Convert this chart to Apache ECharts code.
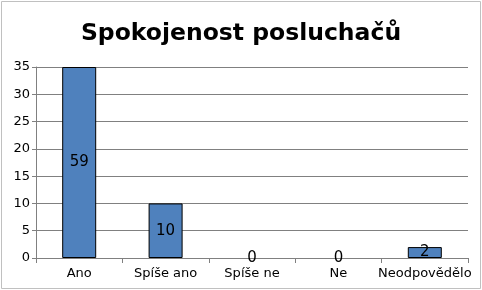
<!DOCTYPE html>
<html><head><meta charset="utf-8">
<script src="https://cdn.jsdelivr.net/npm/echarts@6/dist/echarts.min.js"></script>
<style>html,body{margin:0;padding:0;background:#fff}#c{width:482px;height:290px}</style>
</head><body><div id="c"></div>
<script>
const categories = ['Ano', 'Spíše ano', 'Spíše ne', 'Ne', 'Neodpovědělo'];
const counts = [59, 10, 0, 0, 2];
const yTicks = [0, 5, 10, 15, 20, 25, 30, 35];
const axisMax = 35;

const chart = echarts.init(document.getElementById('c'));
chart.setOption({
  animation: false,
  title: {
    text: 'Spokojenost posluchačů', left: 'center', top: 17,
    textStyle: { fontFamily: 'DejaVu Sans', fontWeight: 'bold', fontSize: 23.5, color: '#000' }
  },
  graphic: [{ type: 'rect', silent: true, shape: { x: 1.5, y: 1.5, width: 479, height: 287 },
    style: { fill: 'none', stroke: '#c0c0c0', lineWidth: 1 } }],
  grid: { left: 36, right: 14, top: 67, bottom: 32 },
  xAxis: {
    type: 'category', data: categories,
    axisLine: { lineStyle: { color: '#808080' } },
    axisTick: { show: true, length: 5, lineStyle: { color: '#808080' } },
    axisLabel: { color: '#000', fontFamily: 'DejaVu Sans', fontSize: 13, margin: 9, interval: 0 }
  },
  yAxis: {
    type: 'value', min: 0, max: axisMax, interval: 5,
    axisLine: { show: true, lineStyle: { color: '#808080' } },
    axisTick: { show: true, length: 4, lineStyle: { color: '#808080' } },
    splitLine: { lineStyle: { color: '#808080' } },
    axisLabel: { color: '#000', fontFamily: 'DejaVu Sans', fontSize: 13, margin: 6,
      formatter: v => yTicks.includes(v) ? String(v) : '' }
  },
  series: [{
    type: 'bar', barWidth: 34,
    data: counts.map(v => ({ value: Math.min(v, axisMax), raw: v,
      itemStyle: v === 0 ? { borderWidth: 0 } : undefined })),
    itemStyle: { color: '#4f81bd', borderColor: '#000', borderWidth: 1 },
    label: { show: true, position: 'inside', color: '#000', fontFamily: 'DejaVu Sans',
      fontWeight: 'normal', fontSize: 15,
      formatter: p => String(p.data.raw) }
  }]
});
</script></body></html>
